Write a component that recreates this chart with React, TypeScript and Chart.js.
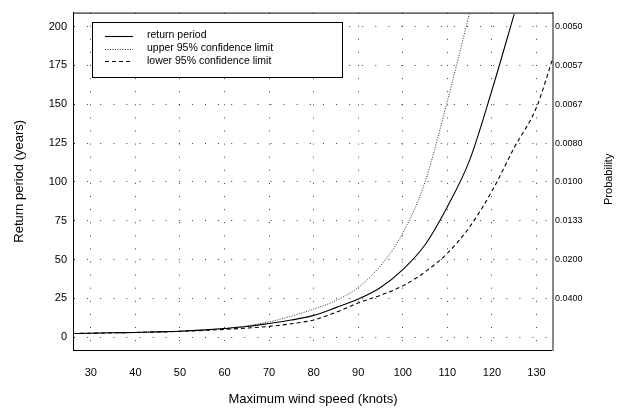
import React, { useEffect, useRef } from 'react';
import { Chart, registerables } from 'chart.js';

Chart.register(...registerables);

// ---- data ----
const windSpeed = [26, 30, 35, 40, 45, 50, 55, 60, 65, 70, 75, 80, 85, 90, 95, 100, 105, 110, 115, 120, 125];
const returnPeriod = [2.3, 2.5, 2.8, 3.0, 3.4, 3.8, 4.5, 5.5, 6.8, 8.8, 11, 14, 19, 24.5, 32, 43.5, 59.5, 84, 114, 159, 208];

const upperWind = [26, 30, 35, 40, 45, 50, 55, 60, 65, 70, 75, 80, 85, 90, 95, 100, 105, 110, 115];
const upperLimit = [2.3, 2.5, 2.8, 3.0, 3.4, 3.8, 4.6, 5.6, 7.3, 9.8, 13.5, 18, 23.5, 32, 46, 67, 100, 152, 209];

const lowerWind = [26, 30, 35, 40, 45, 50, 55, 60, 65, 70, 75, 80, 85, 90, 95, 100, 105, 110, 115, 120, 125, 130, 133.7];
const lowerLimit = [2.3, 2.5, 2.8, 3.0, 3.3, 3.7, 4.3, 5.0, 5.8, 6.9, 8.6, 11, 16, 22, 27, 33, 42, 54, 71, 94, 122, 148, 180];

const seriesLabels = ['return period', 'upper 95% confidence limit', 'lower 95% confidence limit'];
const xTicks = [30, 40, 50, 60, 70, 80, 90, 100, 110, 120, 130];
const yTicks = [0, 25, 50, 75, 100, 125, 150, 175, 200];
const probabilityLabels = ['', '0.0400', '0.0200', '0.0133', '0.0100', '0.0080', '0.0067', '0.0057', '0.0050'];

const FONT = '"Liberation Sans", Arial, sans-serif';

const toPoints = (xs: number[], ys: number[]) => xs.map((x, i) => ({ x, y: ys[i] }));

const decorPlugin = {
  id: 'decor',
  afterDraw(chart: any) {
    const { ctx, chartArea: a } = chart;
    ctx.save();
    // top border
    ctx.strokeStyle = '#000';
    ctx.lineWidth = 1;
    ctx.beginPath();
    ctx.moveTo(a.left, a.top + 0.5);
    ctx.lineTo(a.right, a.top + 0.5);
    ctx.stroke();

    // legend box
    const bx = 92, by = 22, bw = 250, bh = 55;
    ctx.fillStyle = '#fff';
    ctx.fillRect(bx, by, bw, bh);
    ctx.strokeStyle = '#000';
    ctx.lineWidth = 1;
    ctx.strokeRect(bx + 0.5, by + 0.5, bw, bh);
    const rows = [35.5, 48.5, 61];
    chart.data.datasets.forEach((ds: any, i: number) => {
      const y = Math.round(rows[i]) + 0.5;
      ctx.save();
      ctx.strokeStyle = ds.borderColor;
      ctx.lineWidth = ds.borderWidth;
      ctx.setLineDash(ds.borderDash || []);
      ctx.beginPath();
      ctx.moveTo(105, y);
      ctx.lineTo(133, y);
      ctx.stroke();
      ctx.restore();
      ctx.fillStyle = '#000';
      ctx.font = `10.5px ${FONT}`;
      ctx.textAlign = 'left';
      ctx.textBaseline = 'middle';
      ctx.fillText(ds.label, 147, rows[i]);
    });

    // right axis title
    ctx.translate(609, (a.top + a.bottom) / 2 - 2);
    ctx.rotate(-Math.PI / 2);
    ctx.fillStyle = '#000';
    ctx.font = `11px ${FONT}`;
    ctx.textAlign = 'center';
    ctx.textBaseline = 'middle';
    ctx.fillText('Probability', 0, 0);
    ctx.restore();
  },
};

export default function App() {
  const ref = useRef<HTMLCanvasElement | null>(null);

  useEffect(() => {
    if (!ref.current) return;
    const chart = new Chart(ref.current, {
      type: 'line',
      data: {
        datasets: [
          {
            label: seriesLabels[0],
            data: toPoints(windSpeed, returnPeriod),
            borderColor: '#000',
            borderWidth: 1.1,
            pointRadius: 0,
            cubicInterpolationMode: 'monotone',
            yAxisID: 'y',
          },
          {
            label: seriesLabels[1],
            data: toPoints(upperWind, upperLimit),
            borderColor: '#333',
            borderWidth: 1,
            borderDash: [1, 1.5],
            pointRadius: 0,
            cubicInterpolationMode: 'monotone',
            yAxisID: 'y',
          },
          {
            label: seriesLabels[2],
            data: toPoints(lowerWind, lowerLimit),
            borderColor: '#000',
            borderWidth: 1.1,
            borderDash: [4, 3],
            pointRadius: 0,
            cubicInterpolationMode: 'monotone',
            yAxisID: 'y',
          },
        ],
      },
      options: {
        animation: false,
        responsive: false,
        maintainAspectRatio: false,
        layout: { padding: { top: 9, left: 0, right: 0, bottom: 0 } },
        plugins: { legend: { display: false }, tooltip: { enabled: false } },
        scales: {
          x: {
            type: 'linear',
            min: 26,
            max: 133.7,
            afterBuildTicks: (s: any) => { s.ticks = xTicks.map((v) => ({ value: v })); },
            afterFit: (s: any) => { s.height = 67; },
            ticks: { color: '#000', font: { family: FONT, size: 11 }, padding: 16, autoSkip: false, maxRotation: 0 },
            grid: { color: 'rgba(0,0,0,0.75)', lineWidth: 1, drawTicks: false },
            border: { display: true, color: '#000', width: 1, dash: [1, 12.1] },
            title: { display: true, text: 'Maximum wind speed (knots)', color: '#000', font: { family: FONT, size: 13 }, padding: { top: 0, bottom: 10 } },
          },
          y: {
            type: 'linear',
            position: 'left',
            min: -8.3,
            max: 209,
            afterBuildTicks: (s: any) => { s.ticks = yTicks.map((v) => ({ value: v })); },
            afterFit: (s: any) => { s.width = 73; },
            ticks: { color: '#000', font: { family: FONT, size: 11 }, padding: 6 },
            grid: { color: 'rgba(0,0,0,0.75)', lineWidth: 1, drawTicks: false },
            border: { display: true, color: '#000', width: 1, dash: [1, 12.1] },
            title: { display: true, text: 'Return period (years)', color: '#000', font: { family: FONT, size: 13 }, padding: { top: 12, bottom: 0 } },
          },
          y2: {
            type: 'linear',
            position: 'right',
            min: -8.3,
            max: 209,
            afterBuildTicks: (s: any) => { s.ticks = yTicks.map((v) => ({ value: v })); },
            afterFit: (s: any) => { s.width = 69; },
            ticks: {
              color: '#000',
              font: { family: FONT, size: 9 },
              padding: 2,
              callback: (v: any) => {
                const i = yTicks.indexOf(Number(v));
                return i >= 0 ? probabilityLabels[i] : '';
              },
            },
            grid: { display: false, drawTicks: false },
            border: { display: true, color: '#888', width: 2 },
          },
        },
      } as any,
      plugins: [decorPlugin],
    });
    return () => chart.destroy();
  }, []);

  return (
    <div style={{ position: 'absolute', left: 0, top: 0, width: 622, height: 417, background: '#fff' }}>
      <canvas ref={ref} width={622} height={417} style={{ display: 'block', width: 622, height: 417 }} />
    </div>
  );
}
